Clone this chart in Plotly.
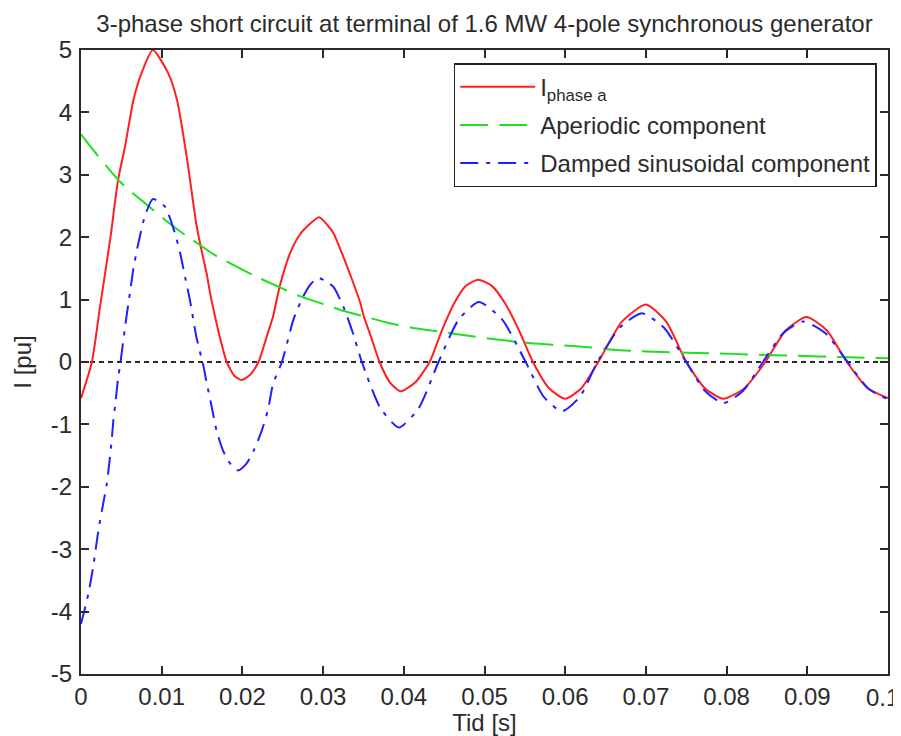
import plotly.graph_objects as go

# ---- data (time in s, current in pu) ----
t_phase_a = [0.0, 0.00135, 0.00235, 0.0036, 0.0046, 0.00545, 0.0065, 0.0075, 0.0089,
             0.0108, 0.0119, 0.0131, 0.0143, 0.0150, 0.0156, 0.0160, 0.0168, 0.0172, 0.01805,
             0.0190, 0.0199, 0.0210, 0.0220, 0.0230, 0.0238, 0.0246, 0.0259, 0.0270, 0.0280,
             0.0295, 0.0305, 0.0313, 0.0325, 0.0335, 0.0346, 0.0350, 0.0360, 0.0370,
             0.0383, 0.0396, 0.0414, 0.0432, 0.0447, 0.0462, 0.0477, 0.0492, 0.0509, 0.0526,
             0.0543, 0.0560, 0.0580, 0.0600, 0.0620, 0.0641, 0.06705, 0.0700, 0.0725, 0.0750,
             0.0773, 0.0796, 0.0822, 0.0848, 0.08735, 0.0899, 0.0924, 0.0949, 0.0975, 0.1000]
i_phase_a = [-0.58, 0.0, 0.88, 1.95, 2.92, 3.45, 4.20, 4.63, 5.00,
             4.63, 4.20, 3.29, 2.20, 1.75, 1.40, 1.10, 0.62, 0.40, 0.0,
             -0.22, -0.29, -0.20, 0.0, 0.40, 0.73, 1.20, 1.74, 2.02, 2.17,
             2.32, 2.20, 2.06, 1.69, 1.35, 0.95, 0.75, 0.38, 0.0,
             -0.33, -0.47, -0.33, 0.0, 0.50, 0.93, 1.22, 1.32, 1.22, 0.93,
             0.50, 0.0, -0.42, -0.59, -0.42, 0.0, 0.65, 0.92, 0.65, 0.0,
             -0.42, -0.59, -0.42, 0.0, 0.51, 0.72, 0.51, 0.0, -0.42, -0.58]

t_aperiodic = [0.0, 0.0015, 0.0032, 0.0046, 0.0060, 0.0077, 0.0102, 0.0120, 0.0139,
               0.0165, 0.0197, 0.0220, 0.0246, 0.0270, 0.0300, 0.0325, 0.0354, 0.0380,
               0.0410, 0.0449, 0.0480, 0.0510, 0.0548, 0.0580, 0.0618, 0.0650, 0.0680,
               0.0720, 0.0784, 0.0830, 0.0887, 0.0940, 0.1000]
i_aperiodic = [3.65, 3.40, 3.13, 2.92, 2.75, 2.57, 2.30, 2.12, 1.95,
               1.72, 1.50, 1.35, 1.20, 1.06, 0.93, 0.82, 0.72, 0.63,
               0.55, 0.48, 0.42, 0.37, 0.31, 0.28, 0.25, 0.21, 0.18,
               0.16, 0.14, 0.12, 0.10, 0.08, 0.06]

t_damped = [0.0, 0.0009, 0.0015, 0.00215, 0.00275, 0.0032, 0.0035, 0.0038, 0.0040, 0.0043,
            0.0046, 0.0049, 0.0055, 0.0060, 0.0065, 0.0071, 0.0079, 0.0089, 0.0104, 0.01165,
            0.0123, 0.0129, 0.0135, 0.0143, 0.01515, 0.0156, 0.0162, 0.0168, 0.0176, 0.0185,
            0.0195, 0.0205, 0.0214, 0.0224, 0.0232, 0.0238, 0.0249, 0.0263, 0.0273, 0.0283,
            0.0293, 0.0303, 0.0313, 0.0325, 0.0337, 0.0348, 0.0371, 0.0394, 0.04185, 0.0443,
            0.0468, 0.0493, 0.0522, 0.0551, 0.05735, 0.0596, 0.0618, 0.0640, 0.06675, 0.0695,
            0.07225, 0.0750, 0.0773, 0.0796, 0.08205, 0.0845, 0.0870, 0.0895, 0.09225, 0.0950,
            0.0975, 0.1000]
i_damped = [-4.20, -3.72, -3.29, -2.70, -2.27, -1.95, -1.63, -1.26, -0.95, -0.61,
            -0.26, 0.0, 0.60, 1.05, 1.50, 1.90, 2.33, 2.61, 2.49, 2.06,
            1.74, 1.36, 0.99, 0.40, -0.05, -0.35, -0.72, -1.10, -1.42, -1.63,
            -1.74, -1.63, -1.42, -1.10, -0.75, -0.35, 0.0, 0.67, 0.99, 1.22,
            1.35, 1.30, 1.20, 0.89, 0.46, 0.0, -0.74, -1.05, -0.74, 0.0,
            0.68, 0.96, 0.68, 0.0, -0.56, -0.79, -0.56, 0.0, 0.55, 0.78,
            0.55, 0.0, -0.46, -0.66, -0.46, 0.0, 0.46, 0.65, 0.46, 0.0,
            -0.42, -0.60]

zero_t = [0.0, 0.1]
zero_i = [0.0, 0.0]

x_tick_vals = [0, 0.01, 0.02, 0.03, 0.04, 0.05, 0.06, 0.07, 0.08, 0.09, 0.1]
x_tick_text = ["0", "0.01", "0.02", "0.03", "0.04", "0.05", "0.06", "0.07", "0.08", "0.09", "0.1"]
y_tick_vals = [-5, -4, -3, -2, -1, 0, 1, 2, 3, 4, 5]
y_tick_text = ["-5", "-4", "-3", "-2", "-1", "0", "1", "2", "3", "4", "5"]

FONT = "Liberation Sans, Arial, sans-serif"
TXT = "#2b2b2b"
FS = 24

# the last x tick label sits at the right edge; it is drawn as an annotation
# nudged left (as in the reference) so it is not clipped by the page edge
axis_tick_text = x_tick_text[:-1] + [""]

fig = go.Figure()
fig.add_trace(go.Scatter(x=zero_t, y=zero_i, mode="lines", showlegend=False,
                         line=dict(color="#2a2a2a", width=2.2, dash="5px,4px"),
                         hoverinfo="skip"))
fig.add_trace(go.Scatter(x=t_phase_a, y=i_phase_a, mode="lines", name="I<sub>phase a</sub>",
                         legendgroup="a",
                         line=dict(color="#ff1f1f", width=2, shape="spline", smoothing=0.6)))
fig.add_trace(go.Scatter(x=t_aperiodic, y=i_aperiodic, mode="lines", name="Aperiodic component",
                         legendgroup="b",
                         line=dict(color="#1fe01f", width=2, dash="28px,11px", shape="spline", smoothing=0.6)))
fig.add_trace(go.Scatter(x=t_damped, y=i_damped, mode="lines", name="Damped sinusoidal component",
                         legendgroup="c",
                         line=dict(color="#1f1fff", width=2, dash="18px,8px,4px,8px", shape="spline", smoothing=0.6)))

fig.add_annotation(x=x_tick_vals[-1], xref="x", y=0, yref="paper", text=x_tick_text[-1],
                   showarrow=False, xanchor="center", yanchor="top", xshift=-6, yshift=-8,
                   font=dict(family=FONT, size=FS, color=TXT))

# the page body has an 8px default margin, so the figure is 8px smaller
# and its margins are shifted to land where the reference has them
fig.update_layout(
    width=893, height=728,
    margin=dict(l=73, r=13, t=42, b=62, autoexpand=False),
    paper_bgcolor="white", plot_bgcolor="white",
    font=dict(family=FONT, size=FS, color=TXT),
    title=dict(text="3-phase short circuit at terminal of 1.6 MW 4-pole synchronous generator",
               x=0.5, xref="paper", xanchor="center",
               y=1 - 16 / 728, yref="container", yanchor="middle",
               font=dict(family=FONT, size=FS, color=TXT)),
    legend=dict(x=0.986, y=0.979, xanchor="right", yanchor="top",
                bgcolor="white", bordercolor="#222222", borderwidth=1.5,
                font=dict(family=FONT, size=FS, color=TXT),
                traceorder="grouped", tracegroupgap=4, itemwidth=75),
    showlegend=True,
)
fig.update_xaxes(range=[0, 0.1], tickvals=x_tick_vals, ticktext=axis_tick_text, automargin=False,
                 showgrid=False, zeroline=False, showline=True, linecolor="#2a2a2a", linewidth=2,
                 mirror="ticks", ticks="inside", ticklen=8, tickwidth=1.5, tickcolor="#2a2a2a",
                 tickfont=dict(family=FONT, size=FS, color=TXT),
                 title=dict(text="Tid [s]", font=dict(family=FONT, size=FS, color=TXT), standoff=2))
fig.update_yaxes(range=[-5, 5], tickvals=y_tick_vals, ticktext=y_tick_text, automargin=False,
                 showgrid=False, zeroline=False, showline=True, linecolor="#2a2a2a", linewidth=2,
                 mirror="ticks", ticks="inside", ticklen=8, tickwidth=1.5, tickcolor="#2a2a2a",
                 tickfont=dict(family=FONT, size=FS, color=TXT), ticklabelstandoff=2,
                 ticklabeloverflow="allow",
                 title=dict(text="I [pu]", font=dict(family=FONT, size=FS, color=TXT), standoff=12))

fig.write_html("out.html")
